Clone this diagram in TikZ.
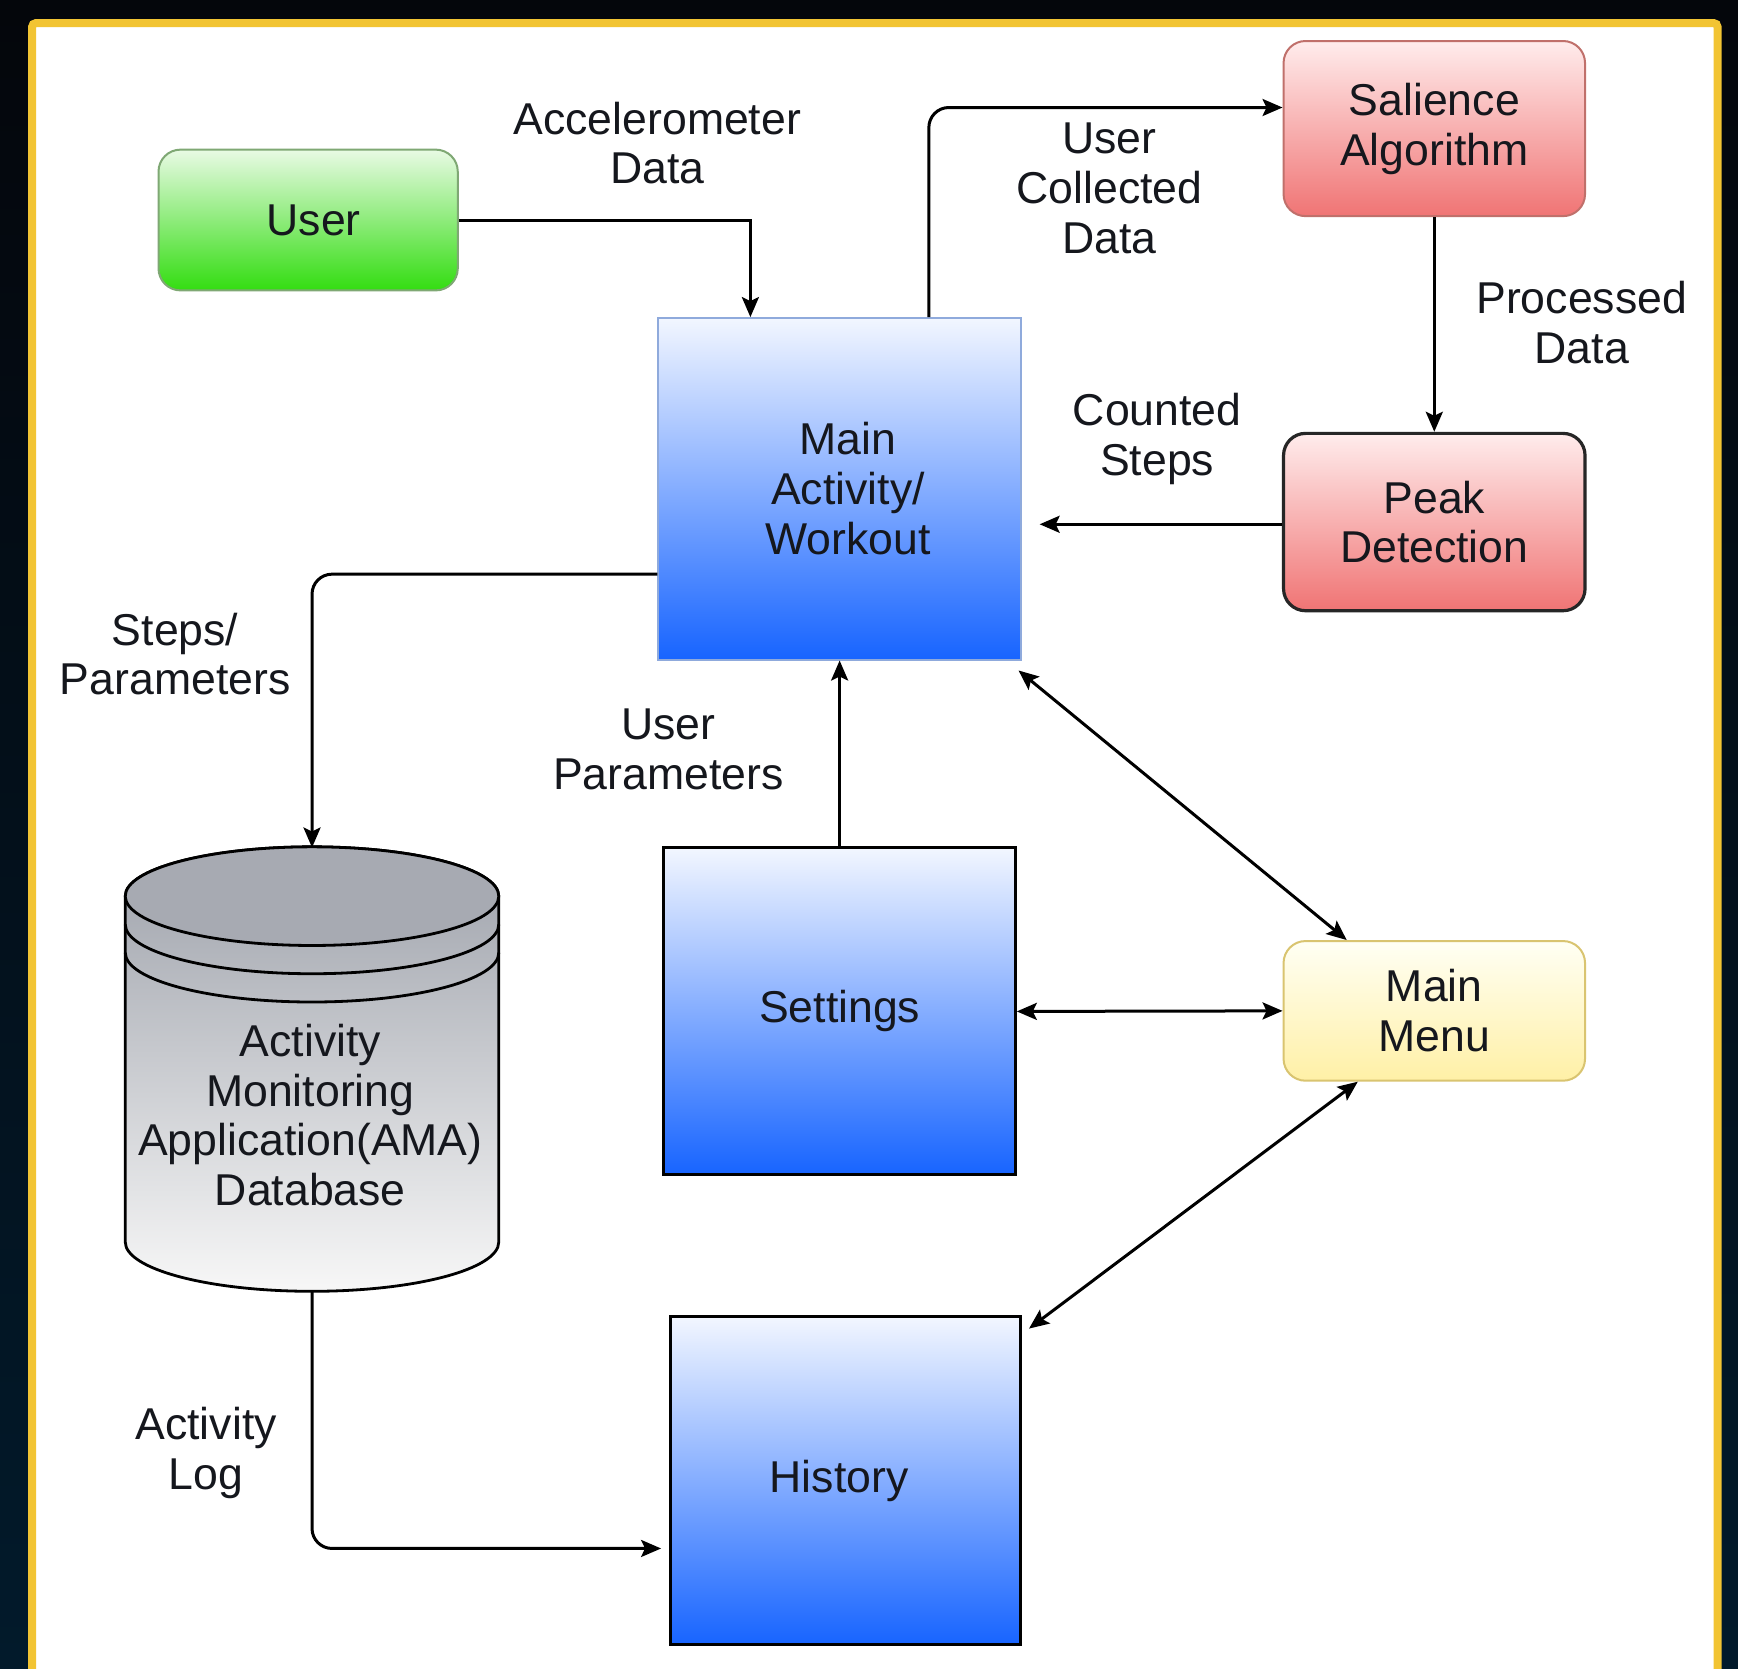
\documentclass[tikz,border=0pt]{standalone}
\usepackage{fontspec}
\setmainfont{Liberation Sans}
\usetikzlibrary{arrows.meta,calc}
\newlength\U \setlength\U{0.5542pt}
\definecolor{bgtop}{HTML}{04060B}
\definecolor{bgbot}{HTML}{021A2B}
\definecolor{frameY}{HTML}{F2C433}
\definecolor{txt}{HTML}{15171D}
\definecolor{greenT}{HTML}{E8FAE4}
\definecolor{greenB}{HTML}{33DD11}
\definecolor{greenL}{HTML}{7FA874}
\definecolor{blueT}{HTML}{F2F6FF}
\definecolor{blueB}{HTML}{1764FF}
\definecolor{blueL}{HTML}{8FAADC}
\definecolor{redT}{HTML}{FFECEC}
\definecolor{redB}{HTML}{F07474}
\definecolor{redL}{HTML}{C0706B}
\definecolor{yelT}{HTML}{FFFFF4}
\definecolor{yelB}{HTML}{FFF0A6}
\definecolor{yelL}{HTML}{D9C470}
\definecolor{dbT}{HTML}{9DA1AA}
\definecolor{dbB}{HTML}{F7F7F7}
\definecolor{dbF}{HTML}{A7AAB2}
\begin{document}
\begin{tikzpicture}[x=0.5542pt,y=-0.5542pt,
  every node/.style={font=\fontsize{22.3pt}{24.9pt}\selectfont, text=txt, align=center, inner sep=0pt},
  rbox/.style={rounded corners=11pt, minimum width=272\U},
  sqbox/.style={draw=black, line width=1.5pt, top color=blueT, bottom color=blueB},
  arr/.style={draw=black, line width=1.5pt, -{Stealth[length=10pt,width=8.5pt,inset=2pt]}},
  darr/.style={draw=black, line width=1.5pt, {Stealth[length=10pt,width=8.5pt,inset=2pt]}-{Stealth[length=10pt,width=8.5pt,inset=2pt]}}
]
% background
\path[top color=bgtop, bottom color=bgbot] (0,0) rectangle (1568,1505);
\useasboundingbox (0,0) rectangle (1568,1505);
\path[draw=frameY, line width=4pt, fill=white, rounded corners=2pt] (28.9,20.8) rectangle (1549.6,1540);

% database cylinder
\path[draw=black, line width=1.4pt, top color=dbT, bottom color=dbB]
  (113,808.5) -- (113,1120.5) arc[start angle=180,end angle=0,x radius=168.5,y radius=44.5]
  -- (450,808.5) arc[start angle=0,end angle=-180,x radius=168.5,y radius=44.5] -- cycle;
\path[draw=black, line width=1.4pt, fill=dbF] (281.5,808.5) ellipse[x radius=168.5, y radius=44.5];
\draw[line width=1.4pt] (113,834) arc[start angle=180,end angle=0,x radius=168.5,y radius=44.5];
\draw[line width=1.4pt] (113,859.5) arc[start angle=180,end angle=0,x radius=168.5,y radius=44.5];
\node[minimum width=337\U, minimum height=400\U] (db) at (281.5,965) {};
\node (dbtext) at (280,1006) {Activity\\Monitoring\\Application(AMA)\\Database};

% nodes
\node[rbox, draw=greenL, line width=1pt, top color=greenT, bottom color=greenB,
  minimum width=270\U, minimum height=127\U] (user) at (278,198.5) {\hspace*{10\U}User};
\node[draw=blueL, line width=1pt, top color=blueT, bottom color=blueB,
  minimum width=327\U, minimum height=308\U] (main) at (757.5,441) {\hspace*{15\U}Main\\\hspace*{15\U}Activity/\\\hspace*{15\U}Workout};
\node[rbox, draw=redL, line width=1pt, top color=redT, bottom color=redB,
  minimum height=158\U] (sal) at (1294,116) {Salience\\Algorithm};
\node[rbox, draw=black!85, line width=1.6pt, top color=redT, bottom color=redB,
  minimum height=160\U] (peak) at (1294,471) {Peak\\Detection};
\node[sqbox, minimum width=317\U, minimum height=295\U] (set) at (757.5,912.5) {Settings};
\node[rbox, draw=yelL, line width=1pt, top color=yelT, bottom color=yelB,
  minimum height=126\U] (menu) at (1294,912) {Main\\Menu};
\node[sqbox, minimum width=316\U, minimum height=296\U] (hist) at (763,1336) {History\hspace*{12\U}};

% connectors
\draw[arr] (user.east) -| ($(main.north)+(-80.5,0)$);
\draw[arr, rounded corners=10pt] ($(main.north)+(80.5,0)$) |- ($(sal.west)+(0,-19)$);
\draw[arr] (sal.south) -- (peak.north);
\draw[arr, shorten >=8.9pt] ($(peak.west)+(0,2)$) -- ($(main.east)+(0,32)$);
\draw[arr, rounded corners=10pt] ($(main.west)+(0,77)$) -| (db.north);
\draw[arr] (set.north) -- (main.south);
\draw[darr] ($(main.south east)+(-3,9)$) -- ($(menu.north)+(-79,0)$);
\draw[darr] (set.east) -- (menu.west);
\draw[darr] ($(menu.south)+(-69,0)$) -- ($(hist.north east)+(6,12)$);
\draw[arr, rounded corners=10pt, shorten >=4pt] (db.south) |- ($(hist.west)+(0,61)$);

% labels
\node (lacc) at (593,129) {Accelerometer\\Data};
\node (lucd) at (1001,170) {User\\Collected\\Data};
\node (lproc) at (1427,291) {Processed\\Data};
\node (lcount) at (1044,396) {Counted\\Steps};
\node (lsteps) at (158,590) {Steps/\\Parameters};
\node (luser) at (603,676) {User\\Parameters};
\node (llog) at (186,1311) {Activity\\Log};
\end{tikzpicture}
\end{document}
